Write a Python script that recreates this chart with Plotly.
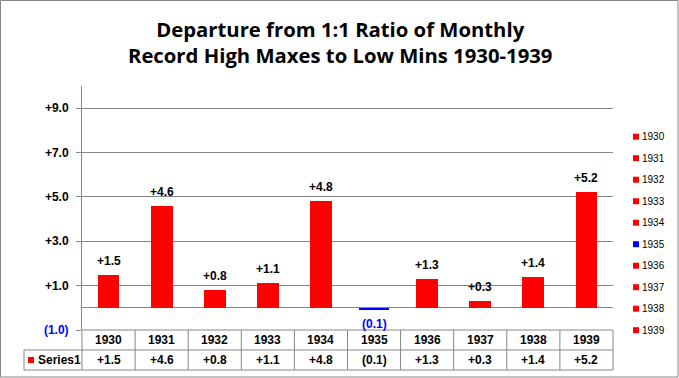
import plotly.graph_objects as go

# ---- data ----
years = ['1930', '1931', '1932', '1933', '1934', '1935', '1936', '1937', '1938', '1939']
values = [1.5, 4.6, 0.8, 1.1, 4.8, -0.1, 1.3, 0.3, 1.4, 5.2]
y_tick_values = [-1, 1, 3, 5, 7, 9]
series_name = 'Series1'
title_text = 'Departure from 1:1 Ratio of Monthly<br>Record High Maxes to Low Mins 1930-1939'

# ---- styling ----
RED = '#FF0000'
BLUE = '#0000FF'
GRID = '#868686'
FONT = 'Liberation Sans'

W_FIG, H_FIG = 679, 378
L, R_EDGE, TOP, BOT = 82, 613, 86, 330
PW, PH = R_EDGE - L, BOT - TOP


def fmt(v):
    return f"+{v:.1f}" if v >= 0 else f"({abs(v):.1f})"


def xp(px):
    return (px - L) / PW


def yp(py):
    return (BOT - py) / PH


colors = [RED if v >= 0 else BLUE for v in values]
widths = [0.41 if v >= 0 else 0.58 for v in values]

fig = go.Figure(go.Bar(
    x=years, y=values, width=widths,
    marker=dict(color=colors, line=dict(width=0)),
    showlegend=False, hoverinfo='x+y'))

ticktext = [fmt(t) if t >= 0 else f'<span style="color:{BLUE}">{fmt(t)}</span>' for t in y_tick_values]

annotations = []
shapes = []

# title
annotations.append(dict(x=xp(339.5), y=yp(41.5), xref='paper', yref='paper', text=title_text,
                        showarrow=False, xanchor='center', yanchor='middle',
                        font=dict(family='Open Sans', size=20.3, weight='bold', color='black')))

# data labels (category axis: positions are category indices)
for i, v in enumerate(values):
    annotations.append(dict(
        x=i, y=v, xref='x', yref='y', text=fmt(v), showarrow=False,
        yanchor='bottom' if v >= 0 else 'top', yshift=5 if v >= 0 else -5,
        font=dict(family=FONT, size=12, weight='bold', color='black' if v >= 0 else BLUE)))

# data table
line = dict(color=GRID, width=1)
shapes.append(dict(type='line', xref='paper', yref='paper', x0=0, x1=1, y0=0, y1=0, line=line))
for py in (350, 370):
    shapes.append(dict(type='line', xref='paper', yref='paper', x0=xp(24), x1=1, y0=yp(py), y1=yp(py), line=line))
n = len(years)
for k in range(n + 1):
    shapes.append(dict(type='line', xref='paper', yref='paper', x0=k / n, x1=k / n, y0=0, y1=yp(370), line=line))
shapes.append(dict(type='line', xref='paper', yref='paper', x0=xp(24), x1=xp(24), y0=yp(350), y1=yp(370), line=line))

for i, (yr, v) in enumerate(zip(years, values)):
    annotations.append(dict(x=i, y=yp(339.5), xref='x', yref='paper', text=yr, showarrow=False,
                            xanchor='center', yanchor='middle',
                            font=dict(family=FONT, size=12, weight='bold', color='black')))
    annotations.append(dict(x=i, y=yp(360), xref='x', yref='paper', text=fmt(v), showarrow=False,
                            xanchor='center', yanchor='middle',
                            font=dict(family=FONT, size=12, weight='bold', color='black')))

shapes.append(dict(type='rect', xref='paper', yref='paper', x0=xp(28), x1=xp(34), y0=yp(363), y1=yp(357),
                   fillcolor=RED, line=dict(width=0)))
annotations.append(dict(x=xp(36), y=yp(360), xref='paper', yref='paper', text=series_name, showarrow=False,
                        xanchor='left', yanchor='middle',
                        font=dict(family=FONT, size=12, weight='bold', color='black')))

# legend (one entry per year)
for i, (yr, c) in enumerate(zip(years, colors)):
    cy = 136.7 + 21.5 * i
    shapes.append(dict(type='rect', xref='paper', yref='paper', x0=xp(633), x1=xp(639),
                       y0=yp(cy + 3), y1=yp(cy - 3), fillcolor=c, line=dict(width=0)))
    annotations.append(dict(x=xp(640), y=yp(cy), xref='paper', yref='paper', text=yr, showarrow=False,
                            xanchor='left', yanchor='middle',
                            font=dict(family=FONT, size=10, color='black')))

# chart border
shapes.append(dict(type='rect', xref='paper', yref='paper', x0=xp(0.5), x1=xp(678), y0=yp(377), y1=yp(0.5),
                   line=dict(color=GRID, width=1), fillcolor='rgba(0,0,0,0)'))

fig.update_layout(
    width=W_FIG, height=H_FIG,
    margin=dict(l=L, r=W_FIG - R_EDGE, t=TOP, b=H_FIG - BOT, autoexpand=False),
    paper_bgcolor='white', plot_bgcolor='white',
    bargap=0,
    xaxis=dict(type='category', showticklabels=False, showgrid=False, showline=False, ticks='',
               range=[-0.5, n - 0.5], fixedrange=True),
    yaxis=dict(range=[-1, 10], tickvals=y_tick_values, ticktext=ticktext, showgrid=True,
               gridcolor=GRID, gridwidth=1, showline=True, linecolor=GRID, linewidth=1,
               ticks='outside', ticklen=5, tickcolor=GRID, ticklabelstandoff=5,
               zeroline=True, zerolinecolor=GRID, zerolinewidth=1,
               tickfont=dict(family=FONT, size=12, weight='bold', color='black')),
    shapes=shapes, annotations=annotations, showlegend=False)

fig.write_html('out.html', config={'displayModeBar': False},
               post_script="document.body.style.margin='0';")
